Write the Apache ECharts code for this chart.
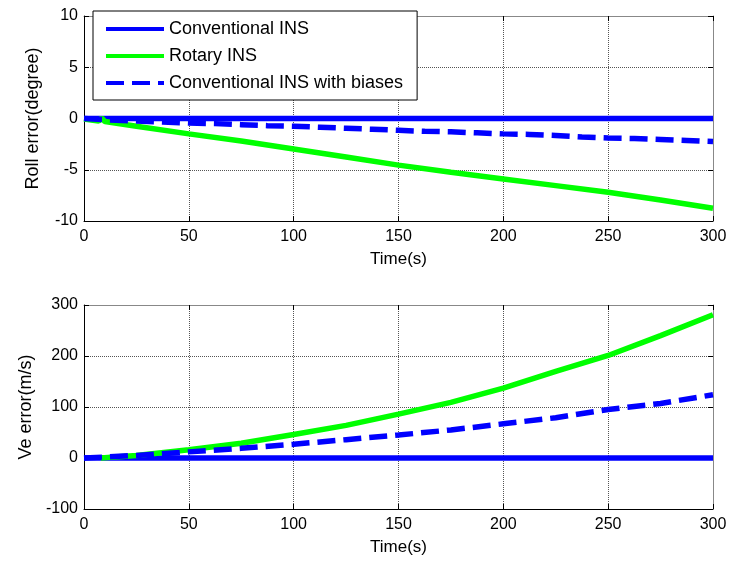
<!DOCTYPE html>
<html>
<head>
<meta charset="utf-8">
<script src="https://cdn.jsdelivr.net/npm/echarts@6/dist/echarts.min.js"></script>
<style>
  html, body { margin: 0; padding: 0; background: #fff; }
  #chart { width: 731px; height: 563px; }
</style>
</head>
<body>
<div id="chart"></div>
<script>
// Series names
const seriesNames = ['Conventional INS', 'Rotary INS', 'Conventional INS with biases'];

// Time axis
const timeRange = [0, 300];
const timeTicks = [0, 50, 100, 150, 200, 250, 300];

// Roll error (degree)
const rollConvT = [0, 300];
const rollConvV = [0, 0];
const rollRotT = [0, 7, 8.5, 10, 25, 50, 75, 100, 125, 150, 175, 200, 225, 250, 275, 300];
const rollRotV = [-0.05, -0.25, 0.05, -0.3, -0.75, -1.5, -2.2, -2.97, -3.75, -4.55, -5.25, -5.9, -6.55, -7.2, -7.95, -8.75];
const rollBiasT = [0, 12.5, 25, 37.5, 50, 62.5, 75, 87.5, 100, 112.5, 125, 137.5, 150, 162.5, 175, 187.5, 200, 212.5, 225, 237.5, 250, 262.5, 275, 287.5, 300];
const rollBiasV = [0, -0.15, -0.25, -0.35, -0.45, -0.5, -0.6, -0.7, -0.75, -0.85, -0.95, -1.05, -1.15, -1.25, -1.3, -1.4, -1.5, -1.55, -1.65, -1.8, -1.9, -1.95, -2.05, -2.15, -2.25];

// East velocity error (m/s)
const veConvT = [0, 300];
const veConvV = [0, 0];
const veRotT = [8, 25, 50, 75, 100, 125, 150, 175, 200, 225, 250, 275, 300];
const veRotV = [0, 5, 16, 29, 46, 64, 86, 109, 137, 170, 201, 240, 281];
const veBiasT = [0, 25, 50, 75, 100, 125, 150, 175, 200, 225, 250, 275, 300];
const veBiasV = [0, 5, 12, 19, 27, 36, 45, 55, 67, 79, 95, 107, 124];

// Y axis ranges: [min, max, interval]
const rollRange = [-10, 10, 5];
const veRange = [-100, 300, 100];

const pairs = (t, v) => t.map((x, i) => [x, v[i]]);

const FONT = 'Liberation Sans, Arial, sans-serif';
const BLUE = '#0000ff';
const GREEN = '#00ff00';

const gridTop = { left: 84, right: 18, top: 16, height: 205 };
const gridBot = { left: 84, right: 18, top: 305, height: 204 };

function mainX(gridIndex) {
  return {
    type: 'value', gridIndex, min: timeRange[0], max: timeRange[1], interval: 50,
    position: 'bottom',
    name: 'Time(s)', nameLocation: 'middle', nameGap: 30,
    nameTextStyle: { fontFamily: FONT, fontSize: 17, color: '#000' },
    axisLine: { show: true, onZero: false, lineStyle: { color: '#000', width: 1 } },
    axisTick: { show: true, inside: true, length: 5, lineStyle: { color: '#000' } },
    axisLabel: { fontFamily: FONT, fontSize: 16, color: '#000', margin: 8 },
    splitLine: { show: true, lineStyle: { color: '#555', width: 1, type: [1, 1] } }
  };
}
function sideX(gridIndex) {
  return {
    type: 'value', gridIndex, min: timeRange[0], max: timeRange[1], interval: 50,
    position: 'top',
    axisLine: { show: true, onZero: false, lineStyle: { color: '#888', width: 1 } },
    axisTick: { show: true, inside: true, length: 5, lineStyle: { color: '#000' } },
    axisLabel: { show: false },
    splitLine: { show: false }
  };
}
function mainY(gridIndex, range, name) {
  return {
    type: 'value', gridIndex, min: range[0], max: range[1], interval: range[2],
    position: 'left',
    name, nameLocation: 'middle', nameGap: 42, nameRotate: 90,
    nameTextStyle: { fontFamily: FONT, fontSize: 18, color: '#000' },
    axisLine: { show: true, onZero: false, lineStyle: { color: '#000', width: 1 } },
    axisTick: { show: true, inside: true, length: 5, lineStyle: { color: '#000' } },
    axisLabel: { fontFamily: FONT, fontSize: 16, color: '#000', margin: 6 },
    splitLine: { show: true, lineStyle: { color: '#555', width: 1, type: [1, 1] } }
  };
}
function sideY(gridIndex, range) {
  return {
    type: 'value', gridIndex, min: range[0], max: range[1], interval: range[2],
    position: 'right',
    axisLine: { show: true, onZero: false, lineStyle: { color: '#888', width: 1 } },
    axisTick: { show: true, inside: true, length: 5, lineStyle: { color: '#000' } },
    axisLabel: { show: false },
    splitLine: { show: false }
  };
}

function lineSeries(name, data, xi, yi, color, dash) {
  return {
    type: 'line', name, data, xAxisIndex: xi, yAxisIndex: yi,
    symbol: 'none', animation: false,
    lineStyle: { color, width: 5.5, type: dash ? [18, 8] : 'solid', cap: 'butt' },
    itemStyle: { color }
  };
}

const chart = echarts.init(document.getElementById('chart'), null, { renderer: 'canvas' });
chart.setOption({
  backgroundColor: '#fff',
  animation: false,
  grid: [gridTop, gridBot],
  xAxis: [mainX(0), sideX(0), mainX(1), sideX(1)],
  yAxis: [
    mainY(0, rollRange, 'Roll error(degree)'), sideY(0, rollRange),
    mainY(1, veRange, 'Ve error(m/s)'), sideY(1, veRange)
  ],
  legend: {
    orient: 'vertical', left: 93, top: 11,
    padding: [9, 14, 8, 11], itemGap: 9,
    itemWidth: 58, itemHeight: 20,
    backgroundColor: '#fff', borderColor: '#000', borderWidth: 1,
    textStyle: { fontFamily: FONT, fontSize: 18, color: '#000' },
    lineStyle: { width: 4 },
    itemStyle: { color: 'rgba(0,0,0,0)', borderWidth: 0, opacity: 0 },
    data: seriesNames
  },
  series: [
    lineSeries(seriesNames[0], pairs(rollConvT, rollConvV), 0, 0, BLUE, false),
    lineSeries(seriesNames[1], pairs(rollRotT, rollRotV), 0, 0, GREEN, false),
    lineSeries(seriesNames[2], pairs(rollBiasT, rollBiasV), 0, 0, BLUE, true),
    lineSeries(seriesNames[0], pairs(veConvT, veConvV), 2, 2, BLUE, false),
    lineSeries(seriesNames[1], pairs(veRotT, veRotV), 2, 2, GREEN, false),
    lineSeries(seriesNames[2], pairs(veBiasT, veBiasV), 2, 2, BLUE, true)
  ]
});
</script>
</body>
</html>
